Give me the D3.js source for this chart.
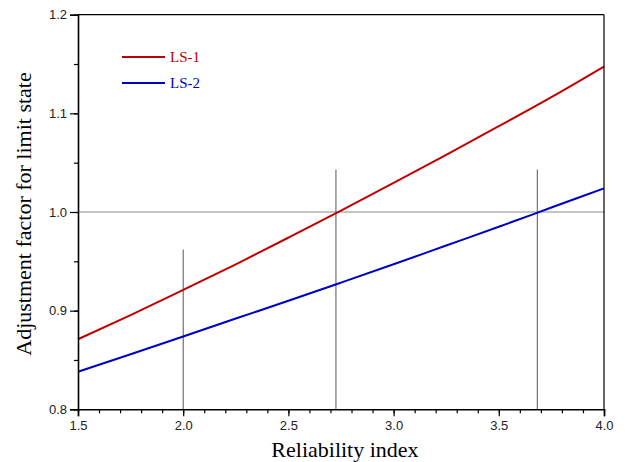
<!DOCTYPE html>
<html>
<head>
<meta charset="utf-8">
<script src="https://cdn.jsdelivr.net/npm/d3@7"></script>
<style>
  body { margin: 0; background: #fff; }
  svg { display: block; }
</style>
</head>
<body>
<div class="chart"></div>
<script>
// reliability index values where the curves are sampled
var beta = [1.5, 1.75, 2.0, 2.25, 2.5, 2.75, 3.0, 3.25, 3.5, 3.75, 4.0];
var ls1 = [0.871, 0.8955, 0.921, 0.947, 0.974, 1.0015, 1.0295, 1.058, 1.087, 1.1165, 1.1475];
var ls2 = [0.838, 0.8558, 0.8738, 0.892, 0.910, 0.9284, 0.947, 0.966, 0.985, 1.0045, 1.024];
var seriesNames = ["LS-1", "LS-2"];
var seriesColors = ["#c00000", "#0000c0"];

// reference lines: vertical markers [x, top y]
var markers = [[2.0, 0.962], [2.726, 1.043], [3.683, 1.043]];
var refLevel = 1.0;

var xTicks = [1.5, 2.0, 2.5, 3.0, 3.5, 4.0];
var yTicks = [0.8, 0.9, 1.0, 1.1, 1.2];

var serif = "'Liberation Serif', 'Times New Roman', serif",
    sans = "'Liberation Sans', Arial, sans-serif";

var margin = {top: 14.7, right: 21, bottom: 52.7, left: 78},
    W = 625, H = 462,
    width = W - margin.left - margin.right,
    height = H - margin.top - margin.bottom;

var svg = d3.select(".chart").append("svg")
    .attr("width", W)
    .attr("height", H);

var g = svg.append("g")
    .attr("transform", "translate(" + margin.left + "," + margin.top + ")");

var x = d3.scaleLinear().domain([1.5, 4.0]).range([0, width]);
var y = d3.scaleLinear().domain([0.8, 1.2]).range([height, 0]);

// reference lines
g.append("line")
    .attr("x1", 0).attr("x2", width)
    .attr("y1", y(refLevel)).attr("y2", y(refLevel))
    .style("stroke", "#8a8a8a").style("stroke-width", 1.2);

g.selectAll(".marker")
    .data(markers)
    .enter().append("line")
    .attr("class", "marker")
    .attr("x1", function(d) { return x(d[0]); })
    .attr("x2", function(d) { return x(d[0]); })
    .attr("y1", y(0.8))
    .attr("y2", function(d) { return y(d[1]); })
    .style("stroke", "#555").style("stroke-width", 1);

// curves
var line = d3.line()
    .x(function(d) { return x(d[0]); })
    .y(function(d) { return y(d[1]); })
    .curve(d3.curveMonotoneX);

[ls1, ls2].forEach(function(vals, i) {
  g.append("path")
    .datum(beta.map(function(b, j) { return [b, vals[j]]; }))
    .attr("d", line)
    .style("fill", "none")
    .style("stroke", seriesColors[i])
    .style("stroke-width", 2);
});

// frame top/right
g.append("line").attr("x1", 0).attr("x2", width).attr("y1", 0).attr("y2", 0)
    .style("stroke", "#000").style("stroke-width", 1.2);
g.append("line").attr("x1", width).attr("x2", width).attr("y1", 0).attr("y2", height)
    .style("stroke", "#000").style("stroke-width", 1.2);

// axes
var xMinor = d3.range(15, 41).map(function(v) { return v / 10; });
var yMinor = d3.range(16, 25).map(function(v) { return v / 20; });

var xAxis = g.append("g")
    .attr("transform", "translate(0," + height + ")");
xAxis.call(d3.axisBottom(x).tickValues(xMinor).tickSize(4).tickFormat(""));
xAxis.call(function(s) { s.select(".domain").remove(); });
g.append("g")
    .attr("transform", "translate(0," + height + ")")
    .call(d3.axisBottom(x).tickValues(xTicks).tickSize(7).tickPadding(4).tickFormat(d3.format(".1f")));

var yAxis = g.append("g");
yAxis.call(d3.axisLeft(y).tickValues(yMinor).tickSize(4).tickFormat(""));
yAxis.call(function(s) { s.select(".domain").remove(); });
g.append("g")
    .call(d3.axisLeft(y).tickValues(yTicks).tickSize(8).tickPadding(3).tickFormat(d3.format(".1f")));

g.selectAll(".domain").style("stroke-width", 1.6);
g.selectAll(".tick line").style("stroke", "#000").style("stroke-width", 1.2);
g.selectAll(".tick text")
    .style("font-family", sans)
    .style("font-size", "13px")
    .style("fill", "#222");

// axis titles
svg.append("text")
    .attr("x", 345)
    .attr("y", 456.5)
    .attr("text-anchor", "middle")
    .style("font-family", serif)
    .style("font-size", "22px")
    .text("Reliability index");

svg.append("text")
    .attr("transform", "translate(31,214) rotate(-90)")
    .attr("text-anchor", "middle")
    .style("font-family", serif)
    .style("font-size", "22px")
    .text("Adjustment factor for limit state");

// legend
var legend = svg.selectAll(".legend")
    .data(seriesNames)
    .enter().append("g")
    .attr("class", "legend")
    .attr("transform", function(d, i) { return "translate(122," + (57 + i * 26) + ")"; });

legend.append("line")
    .attr("x1", 0).attr("x2", 43)
    .style("stroke", function(d, i) { return seriesColors[i]; })
    .style("stroke-width", 2);

legend.append("text")
    .attr("x", 48)
    .attr("y", 5)
    .style("font-family", serif)
    .style("font-size", "15px")
    .style("fill", function(d, i) { return seriesColors[i]; })
    .text(function(d) { return d; });
</script>
</body>
</html>
